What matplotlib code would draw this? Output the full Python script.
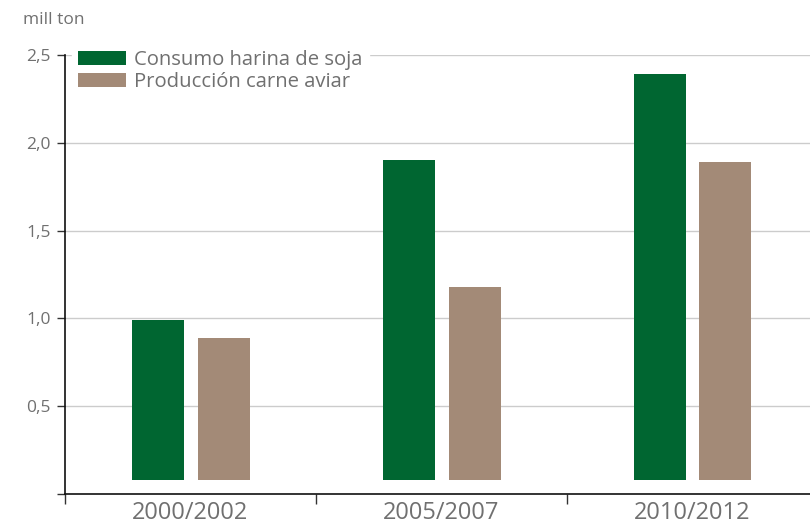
import matplotlib.pyplot as plt
from matplotlib.ticker import FixedLocator, FuncFormatter

plt.rcParams['font.family'] = ['Open Sans', 'DejaVu Sans']

periodos = ['2000/2002', '2005/2007', '2010/2012']
harina_soja = [0.99, 1.90, 2.39]      # Consumo harina de soja
carne_aviar = [0.89, 1.18, 1.89]      # Producción carne aviar
base = 0.08                           # las barras arrancan un poco sobre el eje

verde = '#006631'
marron = '#a38a77'
gris = '#707070'

fig = plt.figure(figsize=(8.1, 5.25), dpi=100)
ax = fig.add_axes([0.080, 0.059, 0.92, 0.836])

x = list(range(len(periodos)))
ancho = 0.207
ax.bar([i - 0.129 for i in x], [v - base for v in harina_soja], ancho, bottom=base,
       color=verde, label='Consumo harina de soja', zorder=3)
ax.bar([i + 0.133 for i in x], [v - base for v in carne_aviar], ancho, bottom=base,
       color=marron, label='Producción carne aviar', zorder=3)

ax.set_ylim(0, 2.5)
ax.set_xlim(-0.5, 2.47)

ax.yaxis.set_major_locator(FixedLocator([0, 0.5, 1.0, 1.5, 2.0, 2.5]))
ax.yaxis.set_major_formatter(FuncFormatter(lambda v, p: '' if v == 0 else ('%.1f' % v).replace('.', ',')))
ax.grid(axis='y', color='#cccccc', linewidth=1, zorder=0)

ax.xaxis.set_major_locator(FixedLocator([-0.5, 0.5, 1.5]))
ax.xaxis.set_major_formatter(FuncFormatter(lambda v, p: ''))
ax.xaxis.set_minor_locator(FixedLocator(x))
ax.set_xticklabels(periodos, minor=True)
ax.tick_params(axis='x', which='minor', length=0, labelsize=17, labelcolor=gris, pad=5)
ax.tick_params(axis='x', which='major', length=7, width=1, color='#333333')
ax.tick_params(axis='y', length=6, width=1, labelsize=12.5, labelcolor=gris, color='#333333', pad=4)

for s in ['top', 'right']:
    ax.spines[s].set_visible(False)
for s in ['left', 'bottom']:
    ax.spines[s].set_color('#111111')
    ax.spines[s].set_linewidth(1.2)

ax.text(-0.056, 1.062, 'mill ton', transform=ax.transAxes, fontsize=12.5, color=gris,
        ha='left', va='bottom')

leg = ax.legend(loc='upper left', bbox_to_anchor=(0.002, 1.04), frameon=True, fontsize=14.6,
                handlelength=2.35, handleheight=0.68, handletextpad=0.4, labelspacing=0.1,
                borderaxespad=0.3, borderpad=0.3)
leg.get_frame().set_facecolor('white')
leg.get_frame().set_edgecolor('white')
leg.get_frame().set_alpha(1)
for t in leg.get_texts():
    t.set_color(gris)

fig.savefig('out.png', dpi=100)
